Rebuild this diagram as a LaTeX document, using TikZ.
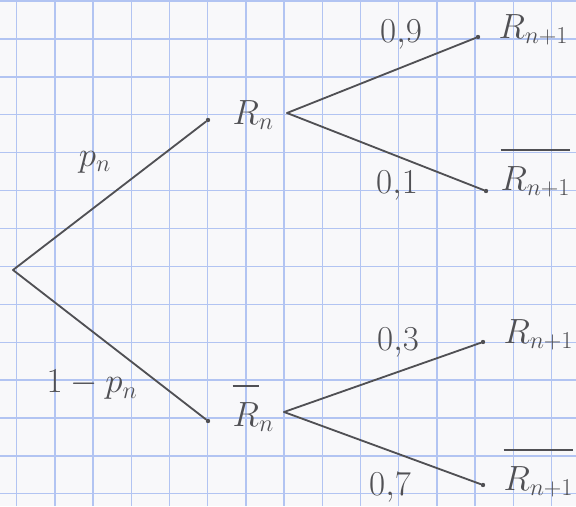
\documentclass[tikz,border=0pt]{standalone}
\usepackage{amsmath,amssymb}
\usepackage{xcolor}
\usepackage{tikz}
\usetikzlibrary{positioning, calc}
\definecolor{pencil}{RGB}{80, 80, 84}
\definecolor{gridblue}{RGB}{178, 196, 242}
\definecolor{paper}{RGB}{248, 248, 250}
\tikzset{
    br/.style    ={draw=pencil, line width=1.3pt, line cap=round},
    pt/.style    ={circle, fill=pencil, inner sep=1.1pt},
    ev/.style    ={font=\fontsize{26}{30}\selectfont, text=pencil, inner sep=1pt},
    pr/.style    ={font=\fontsize{25}{29}\selectfont, text=pencil, inner sep=1pt},
    gridln/.style={draw=gridblue, line width=0.9pt}
}
\newcommand{\nbar}[1]{\overline{\rule{0pt}{0.95em}#1}}

\begin{document}
\begin{tikzpicture}[x=0.025cm, y=-0.025cm]
  \useasboundingbox[fill=paper] (0,0) rectangle (576,506);

  % squared paper
  \foreach \gx in {0,...,14}
    \draw[gridln] ({16.7+38.2*\gx},0) -- ({16.7+38.2*\gx},506);
  \foreach \gy in {0,...,13}
    \draw[gridln] (0,{1.1+37.9*\gy}) -- (576,{1.1+37.9*\gy});

  % first level
  \coordinate (root) at (13,270);
  \node[pt] (a) at (208,120) {};
  \node[pt] (b) at (208,421) {};
  \node[ev, anchor=base west] (ra) at (231,124) {$R_n$};
  \node[ev, anchor=base west] (rb) at (231,426) {$\nbar{R}_n$};
  \coordinate (aout) at (287,113);
  \coordinate (bout) at (284,412);

  % second level
  \node[pt] (aa) at (478,37)  {};
  \node[pt] (ab) at (486,191) {};
  \node[pt] (ba) at (483,342) {};
  \node[pt] (bb) at (483,485) {};
  \node[ev, anchor=base west] (raa) at (497,38)  {$R_{n+1}$};
  \node[ev, anchor=base west] (rab) at (499,190) {$\nbar{R_{n+1}}$};
  \node[ev, anchor=base west] (rba) at (502,343) {$R_{n+1}$};
  \node[ev, anchor=base west] (rbb) at (502,490) {$\nbar{R_{n+1}}$};

  \draw[br] (root) -- (a);
  \draw[br] (root) -- (b);
  \draw[br] (aout) -- (aa);
  \draw[br] (aout) -- (ab);
  \draw[br] (bout) -- (ba);
  \draw[br] (bout) -- (bb);

  % probabilities
  \node[pr] (pa)  at (95,162)  {$p_n$};
  \node[pr] (pb)  at (92,385)  {$1-p_n$};
  \node[pr] (paa) at (401,35)  {$0{,}9$};
  \node[pr] (pab) at (397,186) {$0{,}1$};
  \node[pr] (pba) at (398,343) {$0{,}3$};
  \node[pr] (pbb) at (390,488) {$0{,}7$};
\end{tikzpicture}
\end{document}
